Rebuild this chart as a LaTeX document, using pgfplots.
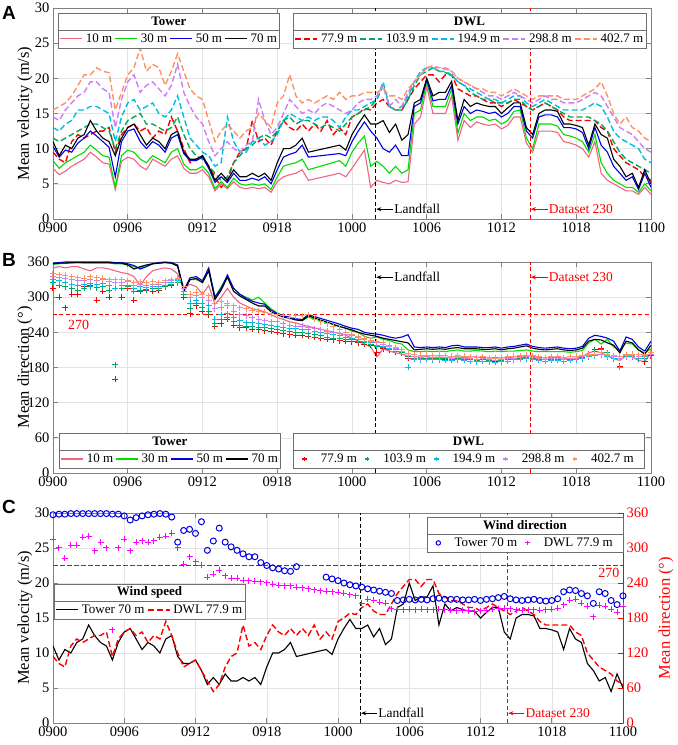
\documentclass[border=0pt]{standalone}
\usepackage{fontspec}
\setmainfont{Liberation Serif}
\newfontfamily\panelfont{Liberation Sans}
\usepackage{pgfplots}
\pgfplotsset{compat=1.18}
\usepackage{pgfplotstable}
\usetikzlibrary{arrows.meta}

\definecolor{cT10}{RGB}{240,100,130}
\definecolor{cT30}{RGB}{0,220,0}
\definecolor{cT50}{RGB}{0,0,225}
\definecolor{cD77}{RGB}{250,0,0}
\definecolor{cD103}{RGB}{0,170,90}
\definecolor{cD194}{RGB}{0,190,225}
\definecolor{cD298}{RGB}{205,125,245}
\definecolor{cD402}{RGB}{255,145,100}
\definecolor{cMag}{RGB}{255,0,255}
\definecolor{axgray}{RGB}{130,130,130}
\definecolor{leggray}{RGB}{110,110,110}

\newcommand\legfont{\fontsize{13}{15}\selectfont}
\newcommand\annfont{\fontsize{13.5}{15}\selectfont}

\pgfplotstableread{
t    v10  v30  v50  v70  d10 d30 d50 d70
0.0  7.2  8.3  10.3 11.0 350 356 358 357
0.5  6.3  7.2  8.8  9.0  352 357 359 358
1.0  6.8  8.0  9.8  10.5 350 358 360 358
1.5  7.5  8.5  9.5  10.0 352 358 360 359
2.0  8.0  9.0  10.8 11.5 352 359 360 359
2.5  8.5  9.5  11.5 12.0 348 358 360 359
3.0  9.5  10.5 12.5 14.0 345 358 360 359
3.5  8.8  9.8  11.8 12.5 350 358 360 359
4.0  8.0  9.0  11.0 11.5 350 358 360 359
4.5  7.8  8.8  10.2 11.0 348 358 360 359
5.0  4.2  4.5  6.0  9.0  345 357 359 358
5.5  8.2  9.0  11.0 11.5 342 357 359 358
6.0  8.8  9.8  12.5 13.0 340 355 357 355
6.5  8.5  9.5  12.8 13.5 335 352 354 348
7.0  7.5  8.5  11.0 12.0 320 350 348 352
7.5  7.0  8.0  10.0 10.5 335 354 352 355
8.0  8.5  9.0  11.0 11.5 345 357 357 357
8.5  8.0  8.5  10.5 11.0 348 358 359 358
9.0  7.5  8.0  9.5  10.0 350 359 360 359
9.5  8.5  9.5  11.5 12.0 348 358 359 358
10.0 9.0  10.0 12.0 12.5 340 354 355 353
10.5 7.2  7.8  9.3  9.5  315 312 312 310
11.0 6.5  7.0  8.3  8.5  322 330 333 330
11.5 6.5  7.0  8.3  8.5  318 330 335 332
12.0 7.0  7.5  8.8  9.0  305 325 328 325
12.5 6.0  6.5  7.2  7.5  320 345 350 345
13.0 4.0  4.3  5.2  5.5  288 300 300 296
13.5 5.0  5.3  6.0  6.5  300 318 315 312
14.0 4.3  4.5  5.2  5.5  315 335 338 334
14.5 5.3  5.8  6.5  7.0  300 315 315 310
15.0 4.5  5.0  5.5  6.0  290 305 305 302
15.5 4.3  4.8  5.5  6.0  285 300 298 296
16.0 4.5  5.0  5.8  6.5  280 295 293 290
16.5 4.3  4.8  5.5  6.0  278 300 290 285
17.0 4.5  5.0  6.0  6.5  275 290 288 285
17.5 3.8  4.2  5.0  5.5  270 280 278 275
18.0 5.3  6.0  7.0  8.0  265 273 272 270
18.5 6.0  7.5  8.8  10.0 262 268 268 266
19.0 6.3  7.8  9.2  10.0 258 265 266 264
19.5 6.5  8.0  9.5  10.5 256 262 263 261
20.0 7.0  8.5  10.5 11.5 253 260 262 260
20.5 5.5  7.0  8.8  9.5  250 266 270 268
23.0 6.5  8.3  9.3  10.5 238 250 254 250
23.5 6.0  7.5  9.0  9.8  235 247 250 247
24.0 7.2  9.5  11.0 12.0 230 242 247 244
24.5 8.5  10.8 12.5 13.5 225 240 245 240
25.0 9.8  11.8 13.8 14.8 220 233 240 237
25.5 4.5  7.5  12.5 13.5 215 230 238 235
26.0 5.5  8.2  11.5 13.5 198 232 237 233
26.5 5.2  7.5  10.0 14.0 212 228 235 230
27.0 5.0  6.5  9.5  12.3 208 226 232 228
27.5 5.5  7.5  10.5 13.5 205 222 230 226
28.0 5.2  6.5  9.0  11.2 203 220 232 224
28.5 5.3  7.0  9.0  12.0 200 210 236 222
29.0 13.5 15.0 16.0 16.5 198 207 215 210
29.5 14.5 15.5 16.5 17.0 198 207 214 211
30.0 18.8 19.5 19.8 20.0 198 208 215 212
30.5 15.0 16.0 16.8 17.5 197 207 214 211
31.0 15.0 16.0 17.0 18.0 198 208 215 212
31.5 15.0 16.0 17.0 18.0 197 207 214 211
32.0 17.5 18.5 19.0 19.6 198 209 217 213
32.5 11.2 12.2 13.5 14.0 198 210 218 214
33.0 14.0 15.0 16.0 17.0 197 208 215 212
33.5 13.0 14.0 15.0 16.0 198 208 215 212
34.0 13.8 14.5 15.5 16.5 198 209 215 212
34.5 13.5 14.5 15.3 16.2 197 208 214 211
35.0 13.3 14.0 15.0 16.0 196 207 214 211
35.5 13.5 14.2 15.2 16.0 197 208 215 212
36.0 12.8 13.5 14.5 15.0 196 207 213 210
36.5 13.3 14.0 15.0 15.8 197 208 215 212
37.0 14.5 15.3 16.0 16.5 198 208 216 213
37.5 14.5 15.5 16.0 16.5 199 209 218 215
38.0 10.8 11.5 12.5 13.0 200 210 220 217
38.5 9.5  10.0 11.5 12.0 199 208 216 213
39.0 12.5 13.5 14.5 15.0 197 207 214 211
39.5 12.5 13.5 14.8 15.5 196 207 213 210
40.0 12.5 13.5 14.8 15.5 197 207 214 211
40.5 12.3 13.2 14.5 15.3 197 207 215 212
41.0 11.0 12.0 13.0 13.5 196 207 213 210
41.5 10.8 11.8 13.0 13.5 195 206 212 209
42.0 10.5 11.5 12.8 13.3 196 207 213 210
42.5 10.0 11.0 12.3 13.0 198 209 216 213
43.0 8.8  9.5  10.0 10.5 205 222 230 225
43.5 11.0 12.0 13.0 13.5 208 228 235 228
44.0 6.5  8.0  10.5 12.0 205 220 233 227
44.5 5.5  6.5  9.5  11.5 200 228 230 222
45.0 5.0  5.5  7.5  8.5  195 215 225 218
45.5 4.5  5.0  6.5  7.5  192 210 208 205
46.0 4.0  4.5  5.5  6.0  200 222 232 225
46.5 4.0  4.5  6.0  6.5  198 220 228 222
47.0 3.5  3.8  4.2  4.5  192 210 215 210
47.5 4.5  5.0  6.5  7.0  190 205 208 203
48.0 3.5  4.0  4.5  5.0  205 212 225 218
}\towerdata

\pgfplotstableread{
t    v77  v103 v194 v298 v402 d77 d103 d194 d298 d402
0.0  9.5  11.5 13.0 14.5 15.5 315 325 330 335 340
0.5  8.5  11.0 12.5 14.0 16.0 300 320 328 333 338
1.0  8.0  11.5 13.5 15.5 16.5 282 318 325 332 337
1.5  11.0 12.0 14.0 16.5 17.5 305 315 322 330 335
2.0  12.0 12.5 15.5 17.5 19.0 305 312 320 328 333
2.5  11.5 13.0 15.5 18.0 20.5 318 315 322 328 332
3.0  12.0 13.5 16.0 19.5 20.5 320 318 323 330 335
3.5  12.5 13.5 16.0 19.5 21.5 295 316 322 328 333
4.0  12.5 13.0 15.5 18.5 21.0 310 318 323 330 332
4.5  13.0 12.5 15.0 18.0 20.8 300 312 320 326 330
5.0  9.5  10.0 11.0 13.0 15.5 160 185 315 325 330
5.5  12.0 12.5 14.5 17.0 18.0 300 315 320 325 330
6.0  13.0 14.0 16.5 19.5 20.5 315 318 320 326 328
6.5  13.5 14.5 17.0 20.5 21.5 295 310 315 320 325
7.0  12.5 15.0 15.5 18.0 24.3 310 312 318 322 326
7.5  13.0 13.5 16.0 19.0 21.0 312 313 316 320 325
8.0  11.5 13.5 16.5 19.5 22.0 310 315 318 322 326
8.5  12.5 13.0 15.0 18.5 21.5 312 314 318 322 325
9.0  12.0 12.5 14.5 17.5 19.0 318 318 320 325 328
9.5  14.5 13.0 15.5 19.0 21.0 320 322 325 328 330
10.0 12.5 14.5 17.5 22.0 23.5 325 325 328 330 332
10.5 10.0 12.0 14.5 18.0 21.0 300 305 310 315 318
11.0 8.0  10.0 11.5 16.0 18.5 272 280 290 300 305
11.5 8.5  9.0  10.5 14.5 17.5 285 290 295 303 308
12.0 9.0  8.5  9.5  13.5 17.0 276 282 290 300 305
12.5 7.5  7.5  9.0  11.0 14.0 270 275 285 295 302
13.0 6.0  6.5  7.5  9.0  11.0 250 255 262 280 290
13.5 4.5  5.5  8.0  10.0 12.5 255 262 270 282 292
14.0 5.5  6.0  14.5 11.0 13.5 262 265 272 285 290
14.5 8.0  8.0  11.0 10.0 12.5 252 258 265 275 285
15.0 9.5  9.0  9.5  9.5  11.5 248 252 260 270 282
15.5 10.0 10.0 9.5  10.5 12.5 248 250 256 268 280
16.0 14.0 10.5 11.0 11.0 13.0 245 250 256 265 278
16.5 11.0 11.5 11.5 17.0 15.0 244 248 255 262 276
17.0 11.5 12.0 10.5 14.0 14.0 243 248 253 260 274
17.5 10.5 11.5 11.0 12.0 13.0 242 246 252 258 272
18.0 12.5 12.5 12.0 13.0 16.5 240 245 250 258 270
18.5 14.0 14.0 14.0 15.0 17.5 238 243 248 255 268
19.0 13.0 14.5 15.0 17.0 20.5 236 241 247 252 266
19.5 12.5 13.5 14.5 16.0 17.5 235 240 246 250 268
20.0 13.5 14.0 14.0 15.0 16.5 235 240 245 250 268
20.5 12.5 14.0 14.5 15.5 17.0 233 238 244 248 270
21.0 13.5 13.5 14.0 15.0 16.5 232 236 242 246 262
21.5 12.5 13.0 14.5 16.0 17.0 230 234 240 244 258
22.0 14.0 13.5 14.5 16.5 17.5 228 232 238 242 255
22.5 12.0 13.0 14.0 16.0 17.0 227 230 236 240 250
23.0 13.0 12.5 13.0 15.5 18.0 226 229 234 238 245
23.5 12.0 13.5 14.5 15.0 17.0 225 228 232 236 240
24.0 14.5 14.5 15.5 15.5 17.5 224 227 230 234 236
24.5 15.0 15.0 15.5 16.5 17.5 222 225 228 232 233
25.0 15.7 15.5 16.0 17.0 18.0 220 222 225 228 230
25.5 15.5 16.0 16.5 17.0 18.0 218 220 222 225 226
26.0 16.5 17.0 17.0 17.5 18.0 205 215 218 222 224
26.5 17.0 19.0 19.5 19.0 18.5 212 214 216 220 222
27.0 16.0 16.0 16.0 16.0 17.5 210 211 213 216 218
27.5 15.5 15.5 15.5 17.0 17.5 207 208 210 212 214
28.0 15.5 15.5 16.0 16.0 17.0 205 206 207 208 210
28.5 17.0 17.0 17.5 18.0 18.5 196 198 180 200 204
29.0 18.5 19.0 19.5 19.5 19.5 195 196 194 198 202
29.5 19.5 20.5 21.0 20.5 20.5 194 195 193 197 201
30.0 20.5 21.0 21.5 21.5 21.5 195 196 194 198 201
30.5 20.5 21.5 21.5 21.5 21.8 194 195 193 197 200
31.0 19.5 21.0 21.0 21.5 21.5 195 195 193 197 201
31.5 20.5 20.8 21.0 21.3 21.5 194 195 192 197 200
32.0 20.5 20.5 20.5 21.0 21.0 194 194 192 196 199
32.5 18.5 19.5 19.5 20.0 20.0 195 195 193 197 200
33.0 18.0 19.0 19.0 19.5 19.5 194 194 192 196 199
33.5 17.5 18.0 18.5 19.0 19.0 193 193 191 195 198
34.0 17.5 17.5 18.0 18.5 18.5 192 192 190 194 197
34.5 17.0 17.0 17.5 18.0 18.5 193 193 191 195 198
35.0 16.5 17.0 17.0 17.5 18.0 192 192 190 193 197
35.5 16.5 16.5 17.0 17.5 18.0 191 192 189 192 196
36.0 16.0 16.5 16.5 17.0 17.5 192 192 190 193 197
36.5 16.5 16.5 17.0 17.5 18.0 193 194 191 195 198
37.0 17.0 17.0 17.5 18.0 18.5 195 195 193 196 199
37.5 16.5 17.0 17.5 17.5 18.0 196 196 194 197 200
38.0 16.0 16.0 16.5 17.0 17.5 197 197 195 198 201
38.5 15.5 15.5 16.0 16.5 17.0 196 196 194 197 200
39.0 16.0 16.0 16.5 17.0 17.5 194 194 192 195 198
39.5 16.5 16.5 17.0 17.5 17.5 193 193 191 194 197
40.0 16.0 16.0 16.5 17.0 17.5 194 194 192 195 198
40.5 15.5 15.5 16.0 17.0 17.5 194 194 192 195 198
41.0 14.5 15.0 15.5 16.5 17.0 193 193 191 194 197
41.5 14.0 14.5 15.5 16.5 17.0 194 194 192 195 198
42.0 14.0 14.5 15.5 16.5 17.0 195 195 193 196 199
42.5 14.0 14.5 15.5 17.0 17.5 197 197 195 198 201
43.0 14.0 14.5 16.0 17.5 18.0 203 203 198 200 202
43.5 14.0 14.0 16.5 18.0 18.5 210 208 200 202 203
44.0 13.0 13.5 16.0 17.5 19.5 212 210 202 203 205
44.5 12.5 12.5 14.5 16.0 17.5 205 205 198 200 203
45.0 10.0 11.0 12.5 14.5 15.0 200 200 195 198 200
45.5 9.0  9.5  11.5 13.0 13.5 182 198 180 196 198
46.0 8.0  8.5  11.0 12.5 14.5 202 200 198 200 202
46.5 7.5  8.0  10.5 12.0 13.0 200 200 198 200 203
47.0 7.0  7.5  10.0 11.0 12.5 195 198 196 199 202
47.5 6.0  7.0  8.5  10.0 11.5 190 196 198 200 203
48.0 5.5  6.5  8.0  9.5  11.0 200 202 205 203 205
}\dwldata

\pgfplotsset{
  legbase/.style={
    legend cell align=left,
    legend style={draw=none, fill=white, inner sep=1.5pt,
      font=\legfont, row sep=0pt,
      nodes={inner sep=1pt, text height=9.5pt, text depth=3pt},
      /tikz/every even column/.append style={column sep=1.5pt},
      /tikz/every odd column/.append style={column sep=2pt}},
    legend image code/.code={%
      \draw[mark repeat=2,mark phase=2,##1] plot coordinates {(0pt,0pt) (11pt,0pt) (22pt,0pt)};},
  },
  markleg/.style={
    legend style={inner xsep=9pt,
      /tikz/every even column/.append style={column sep=7pt},
      /tikz/every odd column/.append style={column sep=13pt}}},
  myaxis/.style={
    scale only axis, anchor=south west,
    xmin=0, xmax=48, xtick={0,6,...,48},
    xticklabels={0900,0906,0912,0918,1000,1006,1012,1018,1100},
    axis line style={draw=axgray, line width=0.7pt},
    every tick/.style={draw=axgray, line width=0.7pt},
    major tick length=5pt, tick align=inside,
    grid=major, major grid style={draw=black!11, line width=0.5pt},
    tick label style={font=\fontsize{14.5}{16}\selectfont, text=black},
    ylabel style={font=\fontsize{16.5}{18}\selectfont, anchor=center},
    /pgf/number format/assume math mode=true,
    legbase,
  },
  ovl/.style={
    scale only axis, anchor=south west, hide axis,
    xmin=0, xmax=48, ymin=0, ymax=1, legbase,
  },
}

\begin{document}
\begin{tikzpicture}
\path[use as bounding box] (0,0) rectangle (678pt,745pt);

% ================= Panel A =================
\begin{axis}[myaxis, at={(53pt,526pt)}, width=598pt, height=211pt,
  ymin=0, ymax=30, ytick={0,5,...,30},
  ylabel={Mean velocity (m/s)},
  ylabel style={at={(axis description cs:-0.0468,0.5)}}]
\addplot[cD77, line width=1.4pt, dash pattern=on 6pt off 3pt] table[x=t,y=v77]{\dwldata};
\addplot[cD103, line width=1.4pt, dash pattern=on 6pt off 3pt] table[x=t,y=v103]{\dwldata};
\addplot[cD194, line width=1.4pt, dash pattern=on 6pt off 3pt] table[x=t,y=v194]{\dwldata};
\addplot[cD298, line width=1.4pt, dash pattern=on 6pt off 3pt] table[x=t,y=v298]{\dwldata};
\addplot[cD402, line width=1.4pt, dash pattern=on 6pt off 3pt] table[x=t,y=v402]{\dwldata};
\addplot[cT10, line width=1.1pt] table[x=t,y=v10]{\towerdata};
\addplot[cT30, line width=1.1pt] table[x=t,y=v30]{\towerdata};
\addplot[cT50, line width=1.1pt] table[x=t,y=v50]{\towerdata};
\addplot[black, line width=1.1pt] table[x=t,y=v70]{\towerdata};
\addplot[black, line width=1.2pt, dash pattern=on 4pt off 2.5pt] coordinates {(25.9,0) (25.9,30)};
\addplot[red, line width=1.2pt, dash pattern=on 4pt off 2.5pt] coordinates {(38.3,0) (38.3,30)};
\draw[-{Stealth[length=5pt,width=4pt]}, line width=0.6pt, black] (axis cs:27.3,1.4) -- (axis cs:25.95,1.4);
\node[anchor=west, inner sep=1pt, font=\annfont] at (axis cs:27.3,1.4) {Landfall};
\draw[-{Stealth[length=5pt,width=4pt]}, line width=0.6pt, red] (axis cs:39.7,1.4) -- (axis cs:38.35,1.4);
\node[anchor=west, inner sep=1pt, font=\annfont, text=red] at (axis cs:39.7,1.4) {Dataset 230};
\end{axis}
\begin{axis}[ovl, at={(53pt,526pt)}, width=598pt, height=211pt,
  legend columns=4,
  legend style={at={(0.0084,0.8957)}, anchor=north west, name=legAT}]
\addlegendimage{cT10, line width=1.1pt}\addlegendentry{10 m}
\addlegendimage{cT30, line width=1.1pt}\addlegendentry{30 m}
\addlegendimage{cT50, line width=1.1pt}\addlegendentry{50 m}
\addlegendimage{black, line width=1.1pt}\addlegendentry{70 m}
\end{axis}
\begin{axis}[ovl, at={(53pt,526pt)}, width=598pt, height=211pt,
  legend columns=5,
  legend style={at={(0.4013,0.8957)}, anchor=north west, name=legAD}]
\addlegendimage{cD77, line width=1.4pt, dash pattern=on 6pt off 3pt}\addlegendentry{77.9 m}
\addlegendimage{cD103, line width=1.4pt, dash pattern=on 6pt off 3pt}\addlegendentry{103.9 m}
\addlegendimage{cD194, line width=1.4pt, dash pattern=on 6pt off 3pt}\addlegendentry{194.9 m}
\addlegendimage{cD298, line width=1.4pt, dash pattern=on 6pt off 3pt}\addlegendentry{298.8 m}
\addlegendimage{cD402, line width=1.4pt, dash pattern=on 6pt off 3pt}\addlegendentry{402.7 m}
\end{axis}

% ================= Panel B =================
\begin{axis}[myaxis, at={(53pt,272pt)}, width=598pt, height=211pt,
  ymin=0, ymax=360, ytick={0,60,...,360},
  ylabel={Mean direction (°)},
  ylabel style={at={(axis description cs:-0.0468,0.5)}}]
\addplot[red, line width=1.2pt, dash pattern=on 4pt off 2.5pt] coordinates {(0,270) (48,270)};
\addplot[cD77, only marks, mark=+, mark size=3pt, mark options={line width=1pt}] table[x=t,y=d77]{\dwldata};
\addplot[cD103, only marks, mark=+, mark size=3pt, mark options={line width=1pt}] table[x=t,y=d103]{\dwldata};
\addplot[cD194, only marks, mark=+, mark size=3pt, mark options={line width=1pt}] table[x=t,y=d194]{\dwldata};
\addplot[cD298, only marks, mark=+, mark size=3pt, mark options={line width=1pt}] table[x=t,y=d298]{\dwldata};
\addplot[cD402, only marks, mark=+, mark size=3pt, mark options={line width=1pt}] table[x=t,y=d402]{\dwldata};
\addplot[cT10, line width=1.1pt] table[x=t,y=d10]{\towerdata};
\addplot[cT30, line width=1.1pt] table[x=t,y=d30]{\towerdata};
\addplot[cT50, line width=1.1pt] table[x=t,y=d50]{\towerdata};
\addplot[black, line width=1.1pt] table[x=t,y=d70]{\towerdata};
\addplot[black, line width=1.2pt, dash pattern=on 4pt off 2.5pt] coordinates {(25.9,0) (25.9,360)};
\addplot[red, line width=1.2pt, dash pattern=on 4pt off 2.5pt] coordinates {(38.3,0) (38.3,360)};
\node[text=red, font=\fontsize{14}{15}\selectfont] at (axis cs:2.05,252) {270};
\draw[-{Stealth[length=5pt,width=4pt]}, line width=0.6pt, black] (axis cs:27.3,334) -- (axis cs:25.95,334);
\node[anchor=west, inner sep=1pt, font=\annfont] at (axis cs:27.3,334) {Landfall};
\draw[-{Stealth[length=5pt,width=4pt]}, line width=0.6pt, red] (axis cs:39.7,334) -- (axis cs:38.35,334);
\node[anchor=west, inner sep=1pt, font=\annfont, text=red] at (axis cs:39.7,334) {Dataset 230};
\end{axis}
\begin{axis}[ovl, at={(53pt,272pt)}, width=598pt, height=211pt,
  legend columns=4,
  legend style={at={(0.010,0.109)}, anchor=north west, name=legBT}]
\addlegendimage{cT10, line width=1.1pt}\addlegendentry{10 m}
\addlegendimage{cT30, line width=1.1pt}\addlegendentry{30 m}
\addlegendimage{cT50, line width=1.1pt}\addlegendentry{50 m}
\addlegendimage{black, line width=1.1pt}\addlegendentry{70 m}
\end{axis}
\begin{axis}[ovl, markleg, at={(53pt,272pt)}, width=598pt, height=211pt,
  legend columns=5,
  legend style={at={(0.4013,0.109)}, anchor=north west, name=legBD}]
\addlegendimage{cD77, only marks, mark=+, mark size=2.3pt, mark options={line width=1.1pt}}\addlegendentry{77.9 m}
\addlegendimage{cD103, only marks, mark=+, mark size=2.3pt, mark options={line width=1.1pt}}\addlegendentry{103.9 m}
\addlegendimage{cD194, only marks, mark=+, mark size=2.3pt, mark options={line width=1.1pt}}\addlegendentry{194.9 m}
\addlegendimage{cD298, only marks, mark=+, mark size=2.3pt, mark options={line width=1.1pt}}\addlegendentry{298.8 m}
\addlegendimage{cD402, only marks, mark=+, mark size=2.3pt, mark options={line width=1.1pt}}\addlegendentry{402.7 m}
\end{axis}

% ================= Panel C =================
\begin{axis}[myaxis, at={(53pt,22pt)}, width=570pt, height=210pt,
  ymin=0, ymax=30, ytick={0,5,...,30}, ytick pos=left,
  ylabel={Mean velocity (m/s)},
  ylabel style={at={(axis description cs:-0.0491,0.5)}}]
\addplot[black, line width=1.1pt] table[x=t,y=v70]{\towerdata};
\addplot[cD77, line width=1.4pt, dash pattern=on 6pt off 3pt] table[x=t,y=v77]{\dwldata};
\addplot[black, line width=1.2pt, dash pattern=on 4pt off 2.5pt] coordinates {(25.9,0) (25.9,30)};
\addplot[red, line width=1.2pt, dash pattern=on 4pt off 2.5pt] coordinates {(38.3,0) (38.3,30)};
\draw[-{Stealth[length=5pt,width=4pt]}, line width=0.6pt, black] (axis cs:27.3,1.4) -- (axis cs:25.95,1.4);
\node[anchor=west, inner sep=1pt, font=\annfont] at (axis cs:27.3,1.4) {Landfall};
\draw[-{Stealth[length=5pt,width=4pt]}, line width=0.6pt, red] (axis cs:39.7,1.4) -- (axis cs:38.35,1.4);
\node[anchor=west, inner sep=1pt, font=\annfont, text=red] at (axis cs:39.7,1.4) {Dataset 230};
\end{axis}
\begin{axis}[scale only axis, anchor=south west, at={(53pt,22pt)}, width=570pt, height=210pt,
  xmin=0, xmax=48, ymin=0, ymax=360, ytick={0,60,...,360},
  axis x line=none, axis y line*=right,
  y axis line style={draw=red, line width=0.7pt, -},
  ytick style={draw=red, line width=0.7pt},
  major tick length=5pt, tick align=inside,
  yticklabel style={font=\fontsize{14.5}{16}\selectfont, text=red},
  ylabel={Mean direction (°)},
  ylabel style={font=\fontsize{16.5}{18}\selectfont, text=red, anchor=center, at={(axis description cs:1.0754,0.5)}},
  /pgf/number format/assume math mode=true]
\addplot[cT50, only marks, mark=o, mark size=3pt, mark options={line width=1pt}] table[x=t,y=d70]{\towerdata};
\addplot[cMag, only marks, mark=+, mark size=3pt, mark options={line width=1pt}] table[x=t,y=d77]{\dwldata};
\draw[draw=red, line width=1.6pt, dash pattern=on 4.5pt off 2.5pt] (axis cs:0,270) -- (axis cs:48,270);
\node[text=red, font=\fontsize{14}{15}\selectfont] at (axis cs:46.8,257) {270};
\end{axis}
\begin{axis}[ovl, at={(53pt,22pt)}, width=570pt, height=210pt,
  legend columns=2,
  legend style={at={(0.0018,0.581)}, anchor=north west, name=legCS}]
\addlegendimage{black, line width=1.1pt}\addlegendentry{Tower 70 m}
\addlegendimage{cD77, line width=1.4pt, dash pattern=on 6pt off 3pt}\addlegendentry{DWL 77.9 m}
\end{axis}
\begin{axis}[ovl, markleg, at={(53pt,22pt)}, width=570pt, height=210pt,
  legend columns=2,
  legend style={at={(0.656,0.9)}, anchor=north west, name=legCD}]
\addlegendimage{cT50, only marks, mark=o, mark size=2.2pt, mark options={line width=1pt}}\addlegendentry{Tower 70 m}
\addlegendimage{cMag, only marks, mark=+, mark size=2.3pt, mark options={line width=1.1pt}}\addlegendentry{DWL 77.9 m}
\end{axis}

% ---- legend frames and headers ----
\foreach \L/\T in {legAT/Tower, legAD/DWL, legBT/Tower, legBD/DWL, legCS/Wind speed, legCD/Wind direction}{
  \draw[draw=leggray, line width=0.7pt] (\L.south west) rectangle (\L.north east);
  \draw[draw=leggray, line width=0.7pt, fill=white] (\L.north west) rectangle ([yshift=17pt]\L.north east);
  \node[font=\legfont\bfseries, inner sep=0pt] at ([yshift=8.5pt]\L.north) {\T};
}

% ---- panel letters ----
\node[anchor=base west, inner sep=0pt, font=\panelfont\bfseries\fontsize{19}{19}\selectfont] at (2pt,725pt) {A};
\node[anchor=base west, inner sep=0pt, font=\panelfont\bfseries\fontsize{19}{19}\selectfont] at (2pt,478pt) {B};
\node[anchor=base west, inner sep=0pt, font=\panelfont\bfseries\fontsize{19}{19}\selectfont] at (2pt,231pt) {C};
\end{tikzpicture}
\end{document}
